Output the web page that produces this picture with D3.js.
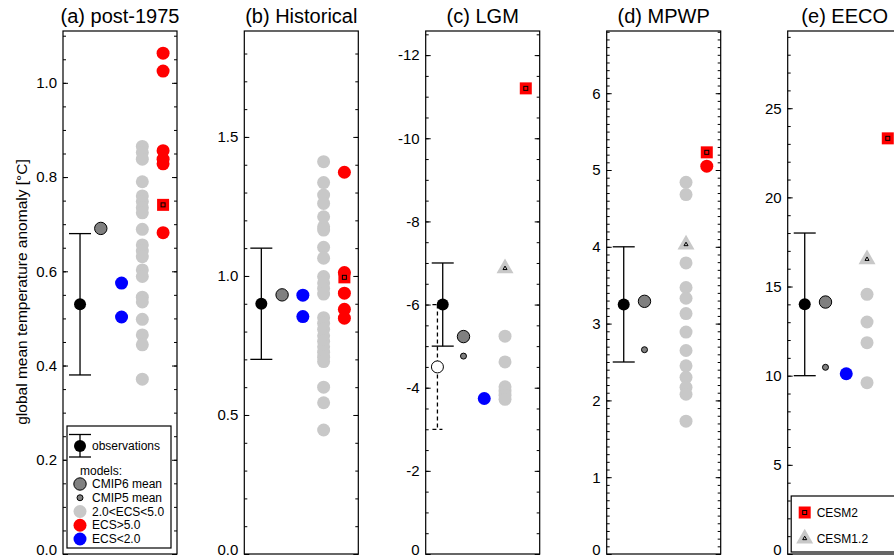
<!DOCTYPE html>
<html>
<head>
<meta charset="utf-8">
<script src="https://cdn.jsdelivr.net/npm/d3@7"></script>
<style>
  body { margin: 0; background: #fff; overflow: hidden; }
  svg { display: block; font-family: "Liberation Sans", Arial, sans-serif; }
</style>
</head>
<body>
<svg id="chart" width="894" height="558"></svg>
<script>
// one entry per panel: post-1975, Historical, LGM, MPWP, EECO
const titles = ["(a) post-1975", "(b) Historical", "(c) LGM", "(d) MPWP", "(e) EECO"];
const yTop = [1.11, 1.881, -12.58, 6.81, 29.33];
const labelStep = [0.2, 0.5, 2, 1, 5];
const minorStep = [0.05, 0.1, 0.5, 0.1, 1];
const labelDecimals = [1, 1, 0, 0, 0];

const obsMean = [0.53, 0.90, -6.0, 3.25, 14.0];
const obsLow = [0.38, 0.70, -7.0, 2.5, 10.0];
const obsHigh = [0.68, 1.10, -5.0, 4.0, 18.0];
// second (dashed) LGM reconstruction: mean, low, high
const lgmAltObs = [-4.5, -6.0, -3.0];

const cmip6Mean = [0.691, 0.932, -5.23, 3.29, 14.13];
const cmip5Mean = [null, null, -4.76, 2.66, 10.47];

const ecsLow = [
  [0.575, 0.503],
  [0.931, 0.854],
  [-3.74],
  [],
  [10.11]
];
const ecsMid = [
  [0.865, 0.852, 0.838, 0.790, 0.760, 0.748, 0.735, 0.724, 0.689, 0.656,
   0.643, 0.631, 0.603, 0.589, 0.545, 0.535, 0.498, 0.465, 0.444, 0.371],
  [1.411, 1.336, 1.291, 1.261, 1.213, 1.177, 1.165, 1.103, 1.064, 0.998,
   0.975, 0.955, 0.935, 0.850, 0.830, 0.808, 0.785, 0.765, 0.745, 0.726,
   0.708, 0.692, 0.600, 0.544, 0.446],
  [-5.24, -4.62, -4.02, -3.92, -3.82, -3.72],
  [4.84, 4.68, 3.79, 3.47, 3.33, 3.13, 2.89, 2.65, 2.45, 2.30, 2.17, 2.08, 1.73],
  [14.56, 13.01, 11.85, 9.61]
];
const ecsHigh = [
  [1.063, 1.025, 0.856, 0.838, 0.828, 0.682],
  [1.373, 1.012, 0.938, 0.880, 0.848],
  [],
  [5.05],
  []
];
const cesm2 = [0.741, 0.995, -11.2, 5.23, 23.31];
const cesm12 = [null, null, -6.87, 4.03, 16.53];

const legendItems = ["CMIP6 mean", "CMIP5 mean", "2.0<ECS<5.0", "ECS>5.0", "ECS<2.0"];

const plotTop = 31, plotBottom = 554, pw = 114;
const panelLeft = [63, 244.3, 425.7, 606.7, 787.7];
const colGrey = "#c8c8c8", colRed = "#ff0000", colBlue = "#0000ff", colMean = "#808080";

const svg = d3.select("#chart");

// column positions inside a panel
const x = d3.scaleLinear().domain([0.18, 5.67]).range([0, pw]);

function tickList(i, step) {
  const sign = yTop[i] < 0 ? -1 : 1;
  const n = Math.floor(Math.abs(yTop[i]) / step + 1e-6);
  return d3.range(0, n + 1).map(k => +(sign * k * step).toFixed(4));
}

function errorBar(g, cx, lo, hi, capW, dashed) {
  const s = g.append("g").attr("stroke", "#000").attr("stroke-width", 1.3)
    .attr("fill", "none");
  if (dashed) s.attr("stroke-dasharray", "4,3");
  s.append("line").attr("x1", cx).attr("x2", cx).attr("y1", lo).attr("y2", hi);
  s.append("line").attr("x1", cx - capW / 2).attr("x2", cx + capW / 2).attr("y1", lo).attr("y2", lo);
  s.append("line").attr("x1", cx - capW / 2).attr("x2", cx + capW / 2).attr("y1", hi).attr("y2", hi);
}

function square(g, cx, cy) {
  g.append("rect").attr("x", cx - 6).attr("y", cy - 6).attr("width", 12).attr("height", 12)
    .attr("fill", colRed);
  g.append("rect").attr("x", cx - 2).attr("y", cy - 2).attr("width", 4).attr("height", 4)
    .attr("fill", "none").attr("stroke", "#000").attr("stroke-width", 1);
}

function triangle(g, cx, cy) {
  const tri = d3.symbol().type(d3.symbolTriangle);
  g.append("path").attr("d", tri.size(125)()).attr("transform", `translate(${cx},${cy})`)
    .attr("fill", colGrey);
  g.append("path").attr("d", tri.size(7)()).attr("transform", `translate(${cx},${cy})`)
    .attr("fill", "none").attr("stroke", "#000").attr("stroke-width", 1);
}

titles.forEach((t, i) => {
  const g = svg.append("g").attr("transform", `translate(${panelLeft[i]},0)`);
  const y = d3.scaleLinear().domain([0, yTop[i]]).range([plotBottom, plotTop]);
  const fmt = d => d.toFixed(labelDecimals[i]);

  // ticks, all pointing inward
  g.append("g").call(d3.axisLeft(y).tickValues(tickList(i, minorStep[i])).tickSize(-3).tickFormat(""));
  g.append("g").attr("transform", `translate(${pw},0)`)
    .call(d3.axisRight(y).tickValues(tickList(i, minorStep[i])).tickSize(-3).tickFormat(""));
  g.append("g").attr("transform", `translate(${pw},0)`)
    .call(d3.axisRight(y).tickValues(tickList(i, labelStep[i])).tickSize(-5).tickFormat(""));
  g.append("g").call(d3.axisLeft(y).tickValues(tickList(i, labelStep[i])).tickSize(-5)
      .tickPadding(6).tickFormat(fmt))
    .call(a => a.selectAll("text").attr("font-size", 15).attr("fill", "#000")
      .attr("font-family", "Liberation Sans, Arial, sans-serif")
      .attr("y", d => d === 0 ? -4.5 : 0));
  g.selectAll(".domain").remove();
  g.selectAll(".tick line").attr("stroke", "#000");

  g.append("rect").attr("x", 0).attr("y", plotTop).attr("width", pw).attr("height", plotBottom - plotTop)
    .attr("fill", "none").attr("stroke", "#000").attr("stroke-width", 1.2);

  g.append("text").attr("x", pw / 2).attr("y", 23).attr("text-anchor", "middle")
    .attr("font-size", 20).text(t);

  // observations
  errorBar(g, x(1), y(obsLow[i]), y(obsHigh[i]), 22, false);
  if (i === 2) {
    errorBar(g, x(0.745), y(lgmAltObs[1]), y(lgmAltObs[2]), 10, true);
    g.append("circle").attr("cx", x(0.745)).attr("cy", y(lgmAltObs[0])).attr("r", 6)
      .attr("fill", "#fff").attr("stroke", "#000").attr("stroke-width", 1);
  }
  g.append("circle").attr("cx", x(1)).attr("cy", y(obsMean[i])).attr("r", 6).attr("fill", "#000");

  // multi-model means
  g.append("circle").attr("cx", x(2)).attr("cy", y(cmip6Mean[i])).attr("r", 6.2)
    .attr("fill", colMean).attr("stroke", "#000").attr("stroke-width", 1);
  if (cmip5Mean[i] !== null)
    g.append("circle").attr("cx", x(2)).attr("cy", y(cmip5Mean[i])).attr("r", 3)
      .attr("fill", colMean).attr("stroke", "#000").attr("stroke-width", 1);

  // individual models
  g.selectAll(".low").data(ecsLow[i]).join("circle")
    .attr("cx", x(3)).attr("cy", d => y(d)).attr("r", 6.5).attr("fill", colBlue);
  g.selectAll(".mid").data(ecsMid[i]).join("circle")
    .attr("cx", x(4)).attr("cy", d => y(d)).attr("r", 6.5).attr("fill", colGrey);
  g.selectAll(".high").data(ecsHigh[i]).join("circle")
    .attr("cx", x(5)).attr("cy", d => y(d)).attr("r", 6.5).attr("fill", colRed);

  if (cesm12[i] !== null) triangle(g, x(4), y(cesm12[i]));
  square(g, x(5), y(cesm2[i]));
});

// y axis title
svg.append("text").attr("transform", "translate(21,292) rotate(-90)")
  .attr("text-anchor", "middle").attr("dominant-baseline", "central")
  .attr("font-size", 15.5).text("global mean temperature anomaly [°C]");

// legend in panel (a)
const la = svg.append("g").attr("transform", `translate(${panelLeft[0]},0)`);
la.append("rect").attr("x", 4).attr("y", 426).attr("width", 104).attr("height", 122)
  .attr("fill", "#fff").attr("stroke", "#000").attr("stroke-width", 1.2);
errorBar(la, 17, 457, 434.5, 22, false);
la.append("circle").attr("cx", 17).attr("cy", 446).attr("r", 6).attr("fill", "#000");
la.append("text").attr("x", 29).attr("y", 446).attr("dominant-baseline", "central")
  .attr("font-size", 12).text("observations");
la.append("text").attr("x", 17).attr("y", 471).attr("dominant-baseline", "central")
  .attr("font-size", 12).text("models:");
const legFill = [colMean, colMean, colGrey, colRed, colBlue];
const legR = [6.2, 3, 6.5, 6.5, 6.5];
legendItems.forEach((name, k) => {
  const ly = 484 + k * 13.75;
  la.append("circle").attr("cx", 17).attr("cy", ly).attr("r", legR[k]).attr("fill", legFill[k])
    .attr("stroke", k < 2 ? "#000" : "none").attr("stroke-width", 1);
  la.append("text").attr("x", 29).attr("y", ly).attr("dominant-baseline", "central")
    .attr("font-size", 12).text(name);
});

// legend in panel (e)
const le = svg.append("g").attr("transform", `translate(${panelLeft[4]},0)`);
le.append("rect").attr("x", 3.5).attr("y", 496).attr("width", 104).attr("height", 56)
  .attr("fill", "#fff").attr("stroke", "#000").attr("stroke-width", 1.2);
square(le, 17, 512.5);
le.append("text").attr("x", 29).attr("y", 512.5).attr("dominant-baseline", "central")
  .attr("font-size", 12).text("CESM2");
triangle(le, 17, 538.5);
le.append("text").attr("x", 29).attr("y", 538.5).attr("dominant-baseline", "central")
  .attr("font-size", 12).text("CESM1.2");
</script>
</body>
</html>
